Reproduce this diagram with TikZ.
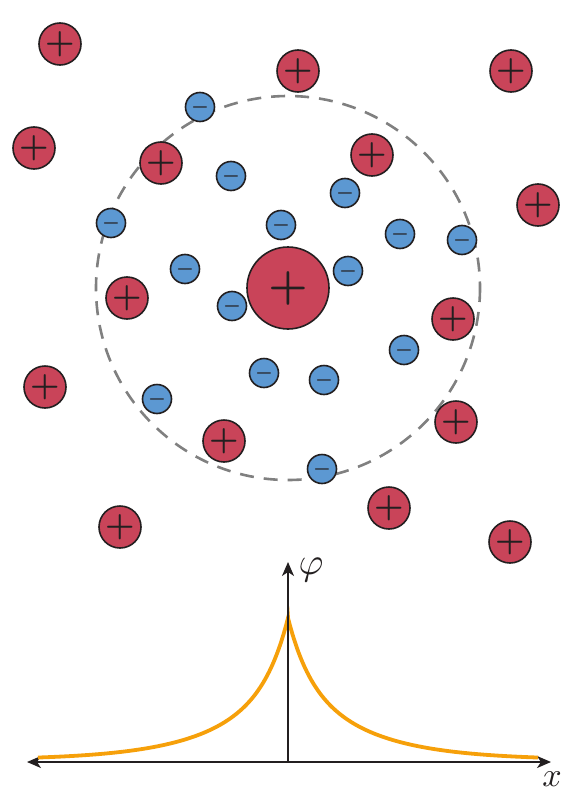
\documentclass[tikz,border=0pt]{standalone}
\usepackage{graphicx}
\usetikzlibrary{arrows.meta}
\definecolor{ionred}{RGB}{201,68,89}
\definecolor{ionblue}{RGB}{92,152,210}
\definecolor{inkdark}{RGB}{35,31,32}
\definecolor{potorange}{RGB}{246,160,10}
\newcommand{\plussign}[1][3.3]{\scalebox{#1}{\boldmath$+$}}
\newcommand{\minussign}{\scalebox{2}{\boldmath$-$}}
\begin{document}
\begin{tikzpicture}[x=1pt,y=-1pt,
  cation/.style={circle,draw=inkdark,line width=1.6pt,fill=ionred,text=inkdark,
    minimum size=42pt,inner sep=0pt},
  anion/.style={circle,draw=inkdark,line width=1.6pt,fill=ionblue,text=inkdark,
    minimum size=29pt,inner sep=0pt},
  axis/.style={line width=1.8pt,draw=inkdark,-{Stealth[length=14pt,width=12pt,inset=4pt]}},
  label/.style={text=inkdark}]
  \useasboundingbox (0,0) rectangle (578,800);
  % screening cloud
  \draw[gray,line width=2.6pt,dash pattern=on 14pt off 10pt] (288,288) circle[radius=192];
  % central ion
  \node[cation,minimum size=82pt] (central) at (288,288) {\plussign[4.4]};
  % counter ions
  \node[anion] (anion1) at (200,107) {\minussign};
  \node[anion] (anion2) at (231,176) {\minussign};
  \node[anion] (anion3) at (345,193) {\minussign};
  \node[anion] (anion4) at (111,223) {\minussign};
  \node[anion] (anion5) at (281,225) {\minussign};
  \node[anion] (anion6) at (400,234) {\minussign};
  \node[anion] (anion7) at (462,240) {\minussign};
  \node[anion] (anion8) at (185,269) {\minussign};
  \node[anion] (anion9) at (348,271) {\minussign};
  \node[anion] (anion10) at (232,306) {\minussign};
  \node[anion] (anion11) at (404,350) {\minussign};
  \node[anion] (anion12) at (264,373) {\minussign};
  \node[anion] (anion13) at (324,380) {\minussign};
  \node[anion] (anion14) at (157,399) {\minussign};
  \node[anion] (anion15) at (322,469) {\minussign};
  % other cations
  \node[cation] (cation1) at (60,44) {\plussign};
  \node[cation] (cation2) at (298,71) {\plussign};
  \node[cation] (cation3) at (511,71) {\plussign};
  \node[cation] (cation4) at (34,148) {\plussign};
  \node[cation] (cation5) at (161,163) {\plussign};
  \node[cation] (cation6) at (372,155) {\plussign};
  \node[cation] (cation7) at (538,205) {\plussign};
  \node[cation] (cation8) at (127,298) {\plussign};
  \node[cation] (cation9) at (453,319) {\plussign};
  \node[cation] (cation10) at (45,387) {\plussign};
  \node[cation] (cation11) at (456,422) {\plussign};
  \node[cation] (cation12) at (224,441) {\plussign};
  \node[cation] (cation13) at (120,527) {\plussign};
  \node[cation] (cation14) at (389,508) {\plussign};
  \node[cation] (cation15) at (510,542) {\plussign};
  % potential
  \coordinate (origin) at (288,762);
  \coordinate (xleft) at (27,762);
  \coordinate (xright) at (551,762);
  \coordinate (ytop) at (288,562);
  \draw[axis,{Stealth[length=14pt,width=12pt,inset=4pt]}-{Stealth[length=14pt,width=12pt,inset=4pt]}] (xleft) -- (xright);
  \draw[potorange,line width=3.8pt,line join=miter]
    plot[domain=-250:0,samples=120] ({288+\x},{760-(54*exp(\x/20)+88*exp(\x/70))})
    -- plot[domain=0:250,samples=120] ({288+\x},{760-(54*exp(-\x/20)+88*exp(-\x/70))});
  \draw[axis] (origin) -- (ytop);
  \node[label] (philabel) at (311,570) {\scalebox{3.8}{$\varphi$}};
  \node[label] (xlabel) at (552,779) {\scalebox{3.4}{$x$}};
\end{tikzpicture}
\end{document}
